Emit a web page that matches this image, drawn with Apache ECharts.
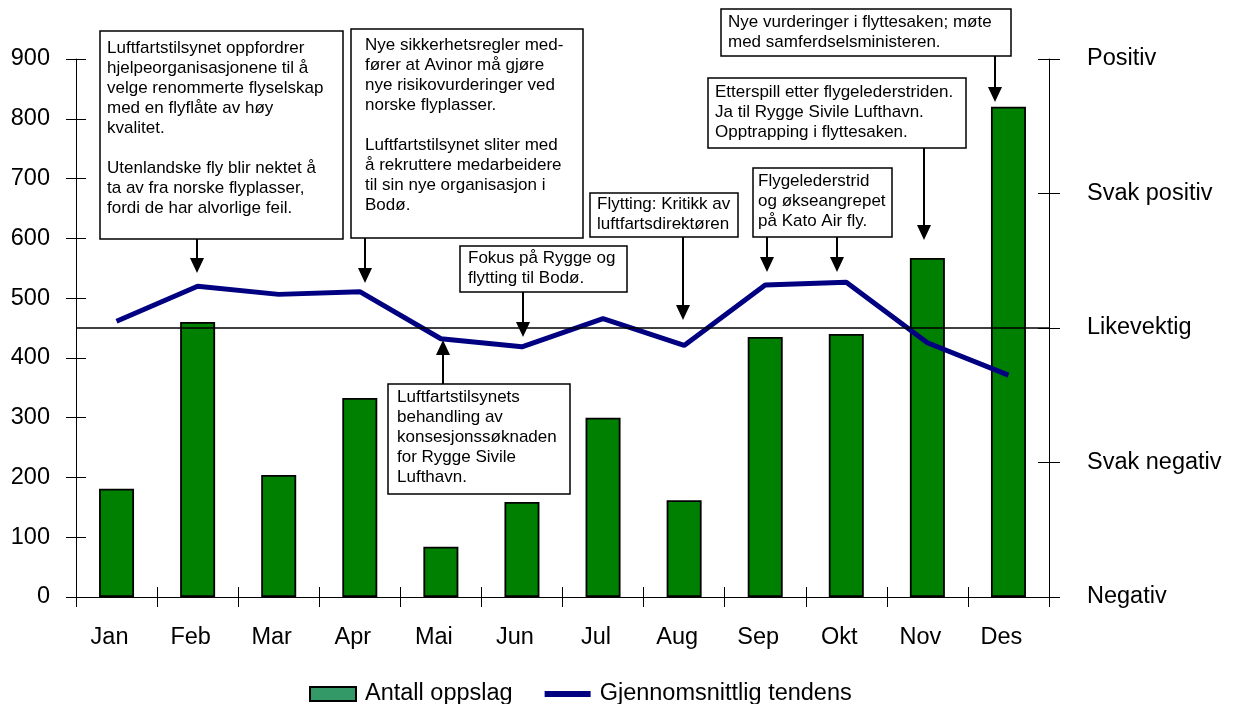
<!DOCTYPE html>
<html>
<head>
<meta charset="utf-8">
<script src="https://cdn.jsdelivr.net/npm/echarts@6/dist/echarts.min.js"></script>
<style>
  html, body { margin: 0; padding: 0; background: #fff; }
  #chart { width: 1239px; height: 704px; }
</style>
</head>
<body>
<div id="chart"></div>
<script>
// data
const months = ["Jan", "Feb", "Mar", "Apr", "Mai", "Jun", "Jul", "Aug", "Sep", "Okt", "Nov", "Des"];
const oppslag = [181, 460, 204, 333, 84, 159, 300, 162, 435, 440, 567, 820];
// tendens on the right scale: 0 = Negativ ... 4 = Positiv
const tendens = [2.05, 2.31, 2.25, 2.27, 1.92, 1.86, 2.07, 1.87, 2.32, 2.34, 1.89, 1.65];
const rightLabels = ["Negativ", "Svak negativ", "Likevektig", "Svak positiv", "Positiv"];
const balanceLevel = 2;

const FONT = '"Liberation Sans", Arial, sans-serif';
const AXIS_FS = 23.5;

// annotation boxes: [x, y, w, h], text padding, arrows [x, from, tip]
const notes = [
  { box: [100, 31, 243, 208], pad: [7, 7],
    lines: ["Luftfartstilsynet oppfordrer", "hjelpeorganisasjonene til å", "velge renommerte flyselskap",
            "med en flyflåte av høy", "kvalitet.", "", "Utenlandske fly blir nektet å",
            "ta av fra norske flyplasser,", "fordi de har alvorlige feil."],
    arrows: [[197, 239, 273]] },
  { box: [351, 29, 232, 209], pad: [14, 6],
    lines: ["Nye sikkerhetsregler med-", "fører at Avinor må gjøre", "nye risikovurderinger ved",
            "norske flyplasser.", "", "Luftfartstilsynet sliter med", "å rekruttere medarbeidere",
            "til sin nye organisasjon i", "Bodø."],
    arrows: [[365, 238, 283]] },
  { box: [460, 246, 167, 46], pad: [8, 2],
    lines: ["Fokus på Rygge og", "flytting til Bodø."],
    arrows: [[523, 292, 337]] },
  { box: [590, 193, 148, 44], pad: [7, 1],
    lines: ["Flytting: Kritikk av", "luftfartsdirektøren"],
    arrows: [[683, 237, 320]] },
  { box: [753, 168, 139, 69], pad: [5, 3],
    lines: ["Flygelederstrid", "og økseangrepet", "på Kato Air fly."],
    arrows: [[767, 237, 272], [837, 237, 272]] },
  { box: [708, 78, 258, 70], pad: [7, 4],
    lines: ["Etterspill etter flygelederstriden.", "Ja til Rygge Sivile Lufthavn.", "Opptrapping i flyttesaken."],
    arrows: [[924, 148, 240]] },
  { box: [721, 9, 290, 47], pad: [7, 3],
    lines: ["Nye vurderinger i flyttesaken; møte", "med samferdselsministeren."],
    arrows: [[995, 56, 102]] },
  { box: [388, 384, 182, 110], pad: [9, 3],
    lines: ["Luftfartstilsynets", "behandling av", "konsesjonssøknaden", "for Rygge Sivile", "Lufthavn."],
    arrows: [[443, 384, 340]] }
];

const graphics = [];
notes.forEach(function (n) {
  const [x, y, w, h] = n.box;
  graphics.push({
    type: "rect", z: 100,
    shape: { x: x, y: y, width: w, height: h },
    style: { fill: "#fff", stroke: "#000", lineWidth: 1.5 }
  });
  graphics.push({
    type: "text", z: 101, x: x + n.pad[0], y: y + n.pad[1],
    style: { text: n.lines.join("\n"), font: "17px " + FONT, lineHeight: 20, fill: "#000" }
  });
  n.arrows.forEach(function (a) {
    const ax = a[0], from = a[1], tip = a[2];
    const dir = tip > from ? 1 : -1;
    const base = tip - dir * 15;
    graphics.push({
      type: "line", z: 101,
      shape: { x1: ax, y1: from, x2: ax, y2: base },
      style: { stroke: "#000", lineWidth: 2 }
    });
    graphics.push({
      type: "polygon", z: 101,
      shape: { points: [[ax - 7, base], [ax + 7, base], [ax, tip]] },
      style: { fill: "#000" }
    });
  });
});

const chart = echarts.init(document.getElementById("chart"));

const tickStyle = { color: "#000", width: 1 };
const option = {
  animation: false,
  backgroundColor: "#fff",
  grid: { left: 76, right: 190, top: 59, bottom: 107, containLabel: false },
  legend: {
    left: 304, top: 677,
    itemWidth: 46, itemHeight: 14, itemGap: 32,
    textStyle: { fontSize: AXIS_FS, fontFamily: FONT, color: "#000", padding: [0, 0, 0, 4] },
    data: [
      { name: "Antall oppslag", icon: "rect",
        itemStyle: { color: "#339966", borderColor: "#000", borderWidth: 2 } },
      { name: "Gjennomsnittlig tendens", icon: "path://M0,0H46V6H0Z" }
    ]
  },
  xAxis: [
    {
      type: "category", data: months, position: "bottom",
      axisLine: { show: true, lineStyle: tickStyle },
      axisTick: { show: true, length: 10, lineStyle: tickStyle },
      axisLabel: { fontSize: AXIS_FS, fontFamily: FONT, color: "#000", margin: 29, padding: [0, 14, 0, 0] }
    },
    {
      // inner half of the crossing ticks
      type: "category", data: months, position: "bottom",
      axisLine: { show: false },
      axisTick: { show: true, inside: true, length: 10, lineStyle: tickStyle },
      axisLabel: { show: false }
    }
  ],
  yAxis: [
    {
      type: "value", min: 0, max: 900, interval: 100, position: "left",
      splitLine: { show: false },
      axisLine: { show: true, lineStyle: tickStyle },
      axisTick: { show: true, length: 10, lineStyle: tickStyle },
      axisLabel: { fontSize: AXIS_FS, fontFamily: FONT, color: "#000", margin: 26 }
    },
    {
      type: "value", min: 0, max: 900, interval: 100, position: "left",
      splitLine: { show: false },
      axisLine: { show: false },
      axisTick: { show: true, inside: true, length: 10, lineStyle: tickStyle },
      axisLabel: { show: false }
    },
    {
      type: "value", min: 0, max: 4, interval: 1, position: "right",
      splitLine: { show: false },
      axisLine: { show: true, lineStyle: tickStyle },
      axisTick: { show: true, length: 11, lineStyle: tickStyle },
      axisLabel: {
        fontSize: AXIS_FS, fontFamily: FONT, color: "#000", margin: 38,
        formatter: function (v) { return rightLabels[v]; }
      }
    },
    {
      type: "value", min: 0, max: 4, interval: 1, position: "right",
      splitLine: { show: false },
      axisLine: { show: false },
      axisTick: { show: true, inside: true, length: 11, lineStyle: tickStyle },
      axisLabel: { show: false }
    }
  ],
  series: [
    {
      name: "Antall oppslag", type: "bar", data: oppslag,
      barWidth: 35,
      itemStyle: { color: "#008000", borderColor: "#000", borderWidth: 1.8 }
    },
    {
      name: "Gjennomsnittlig tendens", type: "line", yAxisIndex: 2, data: tendens,
      symbol: "none", z: 3,
      lineStyle: { color: "#000080", width: 5 },
      itemStyle: { color: "#000080" },
      markLine: {
        silent: true, symbol: "none",
        label: { show: false },
        lineStyle: { color: "#000", width: 1.5, type: "solid" },
        data: [{ yAxis: balanceLevel }]
      }
    }
  ],
  graphic: graphics
};

chart.setOption(option);
</script>
</body>
</html>
